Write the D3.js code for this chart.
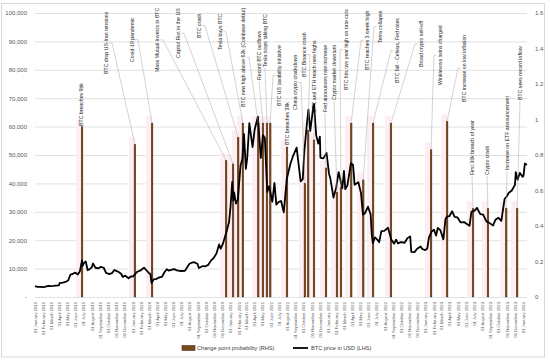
<!DOCTYPE html>
<html>
<head>
<meta charset="utf-8">
<script src="https://cdn.jsdelivr.net/npm/d3@7"></script>
<style>
  body { margin: 0; background: #fff; }
  svg text { font-family: "Liberation Sans", Arial, sans-serif; }
</style>
</head>
<body>
<div id="chart"></div>
<script>
// BTC price (USD)
var btcDates = [
  "2019-01-01","2019-01-10","2019-01-20","2019-01-31","2019-02-10","2019-02-20","2019-02-28","2019-03-10","2019-03-20","2019-03-31",
  "2019-04-03","2019-04-15","2019-04-25","2019-05-05","2019-05-14","2019-05-20","2019-05-31","2019-06-10","2019-06-18","2019-06-26",
  "2019-06-28","2019-07-03","2019-07-10","2019-07-17","2019-07-25","2019-08-01","2019-08-06","2019-08-15","2019-08-25","2019-09-05",
  "2019-09-15","2019-09-24","2019-10-05","2019-10-15","2019-10-25","2019-11-01","2019-11-10","2019-11-20","2019-11-25","2019-12-05",
  "2019-12-17","2019-12-25",
  "2020-01-03","2020-01-10","2020-01-19","2020-01-31","2020-02-13","2020-02-20","2020-03-01","2020-03-08","2020-03-12","2020-03-20",
  "2020-03-31","2020-04-10","2020-04-20","2020-04-30","2020-05-08","2020-05-15","2020-05-31","2020-06-05","2020-06-15","2020-06-30",
  "2020-07-15","2020-07-27","2020-08-02","2020-08-17","2020-08-31","2020-09-05","2020-09-20","2020-09-30","2020-10-10","2020-10-21",
  "2020-10-31","2020-11-10","2020-11-20","2020-11-26","2020-12-05","2020-12-17","2020-12-27",
  "2021-01-02","2021-01-08","2021-01-12","2021-01-15","2021-01-22","2021-01-29","2021-02-08","2021-02-15","2021-02-21","2021-02-28",
  "2021-03-05","2021-03-13","2021-03-25","2021-04-02","2021-04-14","2021-04-25","2021-05-03","2021-05-10","2021-05-19","2021-05-26",
  "2021-06-07","2021-06-15","2021-06-22","2021-07-01","2021-07-10","2021-07-20","2021-07-31","2021-08-14","2021-08-23","2021-09-06",
  "2021-09-21","2021-09-29","2021-10-05","2021-10-15","2021-10-20","2021-10-27","2021-11-08","2021-11-10","2021-11-18","2021-11-26",
  "2021-12-02","2021-12-04","2021-12-15","2021-12-27",
  "2022-01-05","2022-01-10","2022-01-22","2022-02-01","2022-02-10","2022-02-24","2022-03-02","2022-03-07","2022-03-15","2022-03-28",
  "2022-04-05","2022-04-11","2022-04-25","2022-05-05","2022-05-12","2022-05-20","2022-05-31","2022-06-10","2022-06-14","2022-06-18",
  "2022-06-26","2022-07-05","2022-07-12","2022-07-20","2022-07-31","2022-08-14","2022-08-26","2022-09-06","2022-09-13","2022-09-20",
  "2022-10-01","2022-10-15","2022-10-26","2022-11-05","2022-11-09","2022-11-21","2022-12-01","2022-12-14","2022-12-20","2022-12-31",
  "2023-01-08","2023-01-14","2023-01-24","2023-02-02","2023-02-10","2023-02-16","2023-02-26","2023-03-09","2023-03-17","2023-03-22",
  "2023-04-01","2023-04-11","2023-04-20","2023-05-01","2023-05-12","2023-05-25","2023-06-05","2023-06-15","2023-06-22","2023-07-05",
  "2023-07-13","2023-07-25","2023-08-05","2023-08-17","2023-08-28","2023-09-11","2023-09-20","2023-10-01","2023-10-12","2023-10-24",
  "2023-11-01","2023-11-09","2023-11-20","2023-12-02","2023-12-05","2023-12-12","2023-12-20","2023-12-31",
  "2024-01-03","2024-01-08","2024-01-11","2024-01-16"
];
var btcPrices = [
  3850,3600,3550,3450,3650,3950,3850,3900,4000,4100,
  4900,5050,5300,5800,8000,8000,8600,7900,9100,12900,
  11000,11900,12500,9400,9900,10400,11800,10300,10100,10600,
  10300,8500,8100,8300,9500,9200,8800,8100,7100,7500,
  6600,7200,
  7300,8000,8900,9350,10350,9600,8550,8000,4900,6200,
  6400,6900,7100,8800,9800,9300,9700,9800,9400,9150,
  9200,11000,11800,12300,11700,10200,10900,10800,11300,12900,
  13800,15300,18500,17000,19000,22800,26300,
  32200,40500,34000,36800,32900,34300,46200,48700,57400,45100,
  48800,61200,52800,59000,63500,49000,57000,56000,37000,39000,
  33500,40200,32500,33500,33800,29800,41500,47000,49500,52600,
  40700,41500,51500,61500,66000,58500,67500,68000,57000,54000,
  56500,49000,48800,50700,
  43500,41800,35000,38500,44000,38300,44400,38000,39300,47100,
  46600,39500,40400,36500,29000,29500,31800,29100,22100,19000,
  21000,20200,19300,23200,23300,24400,20200,18800,20200,18900,
  19300,19100,20800,21300,15900,15800,17000,17800,16900,16500,
  17100,20900,23000,23700,21600,24300,23500,20300,27400,28300,
  28500,30200,28200,28000,26300,26400,25700,25100,30000,30500,
  31400,29200,29000,26600,26100,25200,27200,27900,26800,34500,
  35400,36700,37500,39500,44000,41300,43700,42300,
  42800,47000,46600,46800
];

// change points and their probability (RHS)
var eventDates = [
  "2019-06-26","2020-01-10","2020-03-14","2020-12-16","2021-01-11","2021-01-30","2021-02-17","2021-04-15","2021-05-03","2021-05-18",
  "2021-05-30","2021-08-01","2021-10-07","2021-10-19","2021-11-10","2021-12-25","2022-02-04","2022-02-19","2022-03-29","2022-05-13",
  "2022-06-19","2022-08-25","2023-01-22","2023-03-23","2023-06-28","2023-08-23","2023-10-30","2023-12-10"
];
var eventProb = [
  0.96,0.86,0.98,0.77,0.75,0.90,0.98,0.98,0.98,0.98,
  0.98,0.845,0.64,0.94,0.885,0.727,0.59,0.62,0.98,0.66,
  0.98,0.98,0.83,0.99,0.5,0.5,0.5,0.5
];
var eventLabels = [
  "BTC breaches 9bk","BTC drop US-Iran tensions","Covid-19 pandemic","Mass Mutual invests in BTC","Capitol Riot in the US",
  "BTC crash","Tesla buys BTC","BTC new high above 62k (Coinbase debut)","Record BTC outflows","Tesla stops taking BTC",
  "BTC US taxability initiative","BTC breaches 39k","China crypto crackdown","BTC Binance crash","BTC and ETH reach new highs",
  "Fed announces rate increase","Crypto market downturn","BTC hits two year high on rate cuts","BTC reaches 3 week high","Terra collapse",
  "BTC fall - Celsius, Fed rates","Broad crypto sell-off","Winklevoss twins charged","BTC increase on low inflation","First 30k breach of year",
  "Crypto crash","Increase on ETF announcement","BTC sees record inflow"
];

// where each annotation text sits: [x centre, y where text starts (bottom)]
var labelLayout = [
  [81,126],[106,74],[132,62],[157,72],[178,58],[199,38],[220,50],[243,107],[259,80],[265,67],
  [279,106],[287,145],[295,110],[304,77],[314,112],[325,112],[334,100],[346,90],[367,70],[380,43],
  [397,83],[421,67],[440,85],[464,102],[472,175],[487,175],[507,170],[520,100]
];

var leftTicks = d3.range(0, 100001, 10000);
var rightTicks = [0, 0.2, 0.4, 0.6, 0.8, 1, 1.2, 1.4, 1.6];

var parse = d3.timeParse("%Y-%m-%d");
var btc = btcDates.map(function(d, i) { return {date: parse(d), price: btcPrices[i]}; });
var events = eventDates.map(function(d, i) {
  return {date: parse(d), p: eventProb[i], label: eventLabels[i], pos: labelLayout[i]};
});

var width = 550, height = 362;
var plot = {left: 35, right: 527, top: 13, bottom: 297};

var svg = d3.select("#chart").append("svg")
    .attr("width", width)
    .attr("height", height);

// chart border
svg.append("rect")
    .attr("x", 1.5).attr("y", 3.5)
    .attr("width", 543).attr("height", 353.5)
    .attr("fill", "none")
    .attr("stroke", "#d9d9d9");

var x = d3.scaleTime()
    .domain([parse("2019-01-01"), parse("2024-01-16")])
    .range([plot.left, plot.right]);
var yL = d3.scaleLinear().domain([0, 100000]).range([plot.bottom, plot.top]);
var yR = d3.scaleLinear().domain([0, 1.6]).range([plot.bottom, plot.top]);

// gridlines
svg.append("g")
  .selectAll("line")
  .data(leftTicks)
  .enter().append("line")
    .attr("x1", plot.left).attr("x2", plot.right)
    .attr("y1", function(d) { return yL(d) + 0.5; })
    .attr("y2", function(d) { return yL(d) + 0.5; })
    .attr("stroke", "#d9d9d9")
    .attr("stroke-width", 0.8);

// left axis
var axL = svg.append("g")
    .attr("transform", "translate(" + (plot.left - 5) + ",0)")
    .call(d3.axisLeft(yL).tickValues(leftTicks).tickSize(0)
      .tickFormat(function(d) { return d === 0 ? "-" : d3.format(",")(d); }));
axL.select(".domain").remove();
axL.selectAll("text").attr("font-size", "6px").attr("fill", "#595959");

// right axis
var axR = svg.append("g")
    .attr("transform", "translate(" + (plot.right + 5) + ",0)")
    .call(d3.axisRight(yR).tickValues(rightTicks).tickSize(0)
      .tickFormat(function(d) { return d3.format("")(d); }));
axR.select(".domain").remove();
axR.selectAll("text").attr("font-size", "6px").attr("fill", "#595959");

// bottom axis, monthly dates
var axB = svg.append("g")
    .attr("transform", "translate(0," + plot.bottom + ")")
    .call(d3.axisBottom(x).ticks(d3.timeMonth.every(1)).tickSize(0)
      .tickFormat(d3.timeFormat("%d %B %Y")));
axB.select(".domain").remove();
axB.selectAll("text")
    .attr("font-size", "4.2px")
    .attr("fill", "#595959")
    .attr("transform", "rotate(-90)")
    .attr("text-anchor", "end")
    .attr("x", -5)
    .attr("y", 0)
    .attr("dy", "0.35em");

// faint pink band behind each change point
svg.append("g")
  .selectAll("rect")
  .data(events)
  .enter().append("rect")
    .attr("x", function(d) { return x(d.date) - 6; })
    .attr("y", function(d) { return yR(d.p + 0.04); })
    .attr("width", 6)
    .attr("height", function(d) { return yR(0) - yR(d.p + 0.04); })
    .attr("fill", "#fdeef4");

// change point bars
svg.append("g")
  .selectAll("rect")
  .data(events)
  .enter().append("rect")
    .attr("x", function(d) { return x(d.date) - 0.9; })
    .attr("y", function(d) { return yR(d.p); })
    .attr("width", 1.8)
    .attr("height", function(d) { return yR(0) - yR(d.p); })
    .attr("fill", "#7a4a1e")
    .attr("stroke", "#3d1a05")
    .attr("stroke-width", 0.3);

// BTC line
svg.append("path")
    .datum(btc)
    .attr("fill", "none")
    .attr("stroke", "#000")
    .attr("stroke-width", 1.8)
    .attr("stroke-linejoin", "round")
    .attr("d", d3.line()
      .x(function(d) { return x(d.date); })
      .y(function(d) { return yL(d.price); }));

// annotation labels + leader lines
var ann = svg.append("g");
events.forEach(function(d) {
  var lx = d.pos[0], ly = d.pos[1];
  var t = ann.append("text")
      .attr("transform", "translate(" + (lx + 1.8) + "," + ly + ") rotate(-90)")
      .attr("font-size", "5.2px")
      .attr("fill", "#262626")
      .text(d.label);
  var len = t.node().getComputedTextLength();
  var bx = x(d.date), by = yR(d.p);
  var mid = ly - len / 2;
  var pts;
  if (bx > lx + 4) {
    pts = [[lx + 3.5, mid], [lx + 6, mid], [bx, by]];
  } else if (bx < lx - 4) {
    pts = [[lx - 3.5, mid], [lx - 6, mid], [bx, by]];
  } else {
    if (by - ly < 3) return;
    pts = [[lx, ly + 1], [bx, by]];
  }
  ann.append("path")
      .attr("d", d3.line()(pts))
      .attr("fill", "none")
      .attr("stroke", "#a6a6a6")
      .attr("stroke-width", 0.5);
});

// legend
var lg = svg.append("g").attr("transform", "translate(0,348)");
lg.append("rect")
    .attr("x", 182).attr("y", -2.5)
    .attr("width", 13).attr("height", 5)
    .attr("fill", "#7a4a1e").attr("stroke", "#3d1a05").attr("stroke-width", 0.5);
lg.append("text").attr("x", 197).attr("y", 2).attr("font-size", "5.6px").attr("fill", "#404040")
    .text("Change point probability (RHS)");
lg.append("line")
    .attr("x1", 293).attr("x2", 308).attr("y1", 0).attr("y2", 0)
    .attr("stroke", "#000").attr("stroke-width", 1.8);
lg.append("text").attr("x", 311).attr("y", 2).attr("font-size", "5.6px").attr("fill", "#404040")
    .text("BTC price in USD (LHS)");
</script>
</body>
</html>
